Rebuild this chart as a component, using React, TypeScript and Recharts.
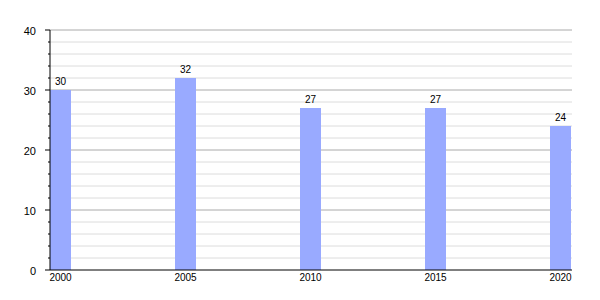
import React from "react";
import { BarChart, Bar, XAxis, YAxis, CartesianGrid, LabelList } from "recharts";

const years = [2000, 2005, 2010, 2015, 2020];
const values = [30, 32, 27, 27, 24];
const yTicks = [0, 2, 4, 6, 8, 10, 12, 14, 16, 18, 20, 22, 24, 26, 28, 30, 32, 34, 36, 38, 40];
const majorTicks = [10, 20, 30, 40];
const minorTicks = yTicks.filter((t) => t % 10 !== 0);

const data = years.map((y, i) => ({ year: y, value: values[i] }));

const FONT = "'Liberation Sans', Arial, sans-serif";

const YTick = (props: any) => {
  const { x, y, payload } = props;
  const v = payload.value;
  const major = v % 10 === 0;
  return (
    <g>
      <line x1={x - (major ? 5 : 2)} x2={x} y1={y} y2={y} stroke="#000" strokeWidth={1} />
      {major && (
        <text x={x - 14} y={y} dy="0.45em" textAnchor="end" fontSize={11} fill="#000" fontFamily={FONT}>
          {v}
        </text>
      )}
    </g>
  );
};

export default function App() {
  return (
    <div style={{ position: "absolute", left: 0, top: 0, background: "#fff" }}>
      <BarChart width={600} height={300} data={data} margin={{ top: 30, right: 28, bottom: 0, left: 0 }}>
        <CartesianGrid vertical={false} horizontalValues={minorTicks} stroke="#dcdcdc" />
        <CartesianGrid vertical={false} horizontalValues={majorTicks} stroke="#aaaaaa" />
        <XAxis
          dataKey="year"
          type="number"
          domain={[1999.58, 2020.46]}
          ticks={years}
          allowDataOverflow
          height={30}
          tickLine={false}
          tickSize={0}
          tickMargin={4}
          axisLine={{ stroke: "#000" }}
          tick={{ fontSize: 10, fill: "#000", fontFamily: FONT }}
          interval={0}
        />
        <YAxis
          type="number"
          domain={[0, 40]}
          ticks={yTicks}
          width={50}
          tickLine={false}
          tickSize={0}
          tickMargin={0}
          axisLine={{ stroke: "#000" }}
          tick={<YTick />}
          interval={0}
        />
        <Bar dataKey="value" fill="#99aaff" barSize={21} isAnimationActive={false}>
          <LabelList dataKey="value" position="top" offset={5} fontSize={10} fill="#000" fontFamily={FONT} />
        </Bar>
      </BarChart>
    </div>
  );
}
